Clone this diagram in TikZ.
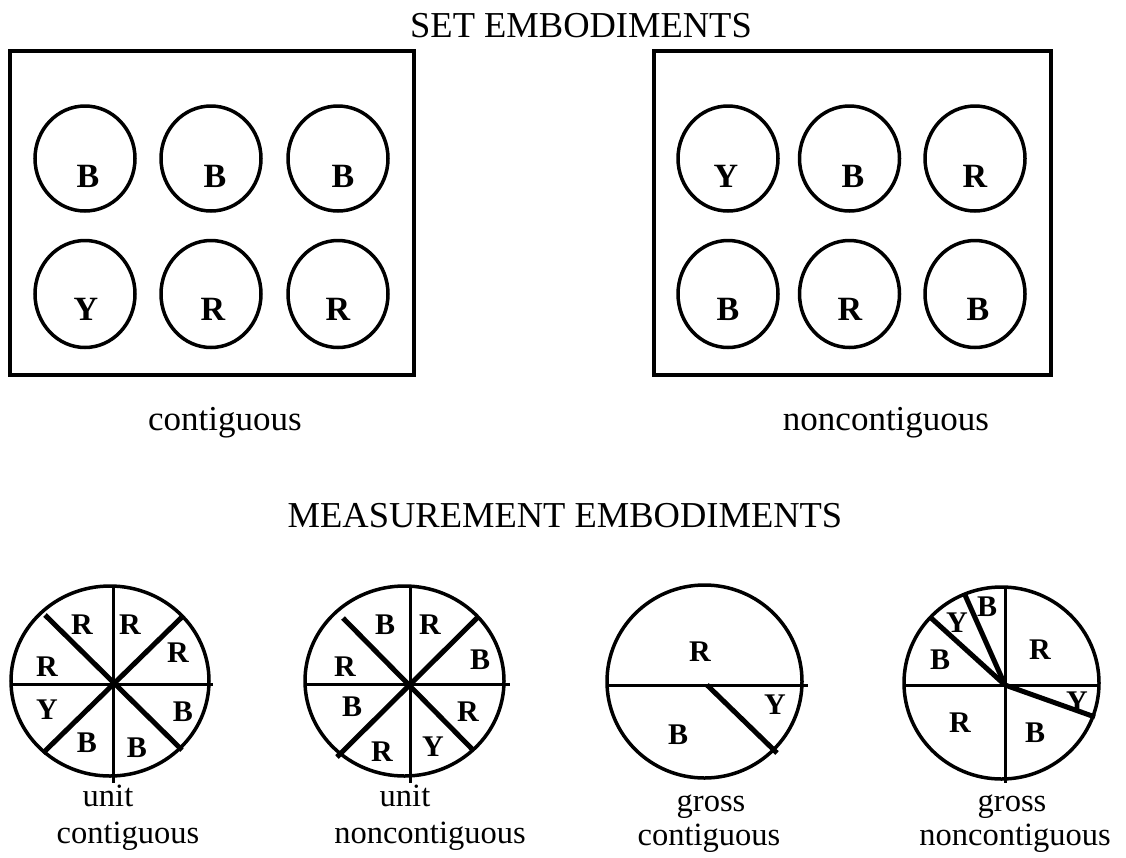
\documentclass[tikz,border=0pt]{standalone}
\usepackage{fontspec}
\setmainfont{Liberation Serif}
\begin{document}
\begin{tikzpicture}[x=1pt,y=-1pt,
  frame/.style={draw=black,line width=4pt},
  ball/.style={draw=black,line width=3.5pt},
  thinln/.style={draw=black,line width=3pt},
  thickln/.style={draw=black,line width=5pt},
  toplet/.style={inner sep=0pt,font=\fontsize{34}{36}\selectfont\bfseries},
  botlet/.style={inner sep=0pt,font=\fontsize{30}{32}\selectfont\bfseries},
  title/.style={inner sep=0pt,anchor=base,font=\fontsize{36.5}{40}\selectfont},
  toplbl/.style={inner sep=0pt,anchor=base,font=\fontsize{35}{38}\selectfont},
  botlbl/.style={inner sep=0pt,anchor=base,font=\fontsize{32.5}{35}\selectfont}]
\useasboundingbox (0,0) rectangle (1126,857);

% titles
\node[title] (t1) at (581,37) {SET EMBODIMENTS};
\node[title] (t2) at (565,527) {MEASUREMENT EMBODIMENTS};

% set embodiments: boxes
\draw[frame] (9.5,51) rectangle (414,375);
\draw[frame] (654,51) rectangle (1050.5,375);

% circles
\foreach \cx in {85,211,338,728,849.5,975}{
  \draw[ball] (\cx,158.5) ellipse (50 and 52.5);
  \draw[ball] (\cx,294) ellipse (50 and 53.5);
}
\node[toplet] (l11) at (88,176) {B};
\node[toplet] (l12) at (215,176) {B};
\node[toplet] (l13) at (343,176) {B};
\node[toplet] (l21) at (86,309) {Y};
\node[toplet] (l22) at (213,309) {R};
\node[toplet] (l23) at (338,309) {R};
\node[toplet] (r11) at (726,176) {Y};
\node[toplet] (r12) at (853,176) {B};
\node[toplet] (r13) at (975,176) {R};
\node[toplet] (r21) at (728,309) {B};
\node[toplet] (r22) at (850,309) {R};
\node[toplet] (r23) at (978,309) {B};

\node[toplbl] (c1) at (225,430) {contiguous};
\node[toplbl] (c2) at (886,430) {noncontiguous};

% ---------- measurement 1: unit contiguous
\draw[ball] (110,681) ellipse (99 and 95);
\draw[thinln] (113,587) -- (113,783);
\draw[thinln] (10,684) -- (213,684);
\draw[thickln] (45,615) -- (182,750);
\draw[thickln] (43,753) -- (182,617);
\node[botlet] (a1) at (82,625) {R};
\node[botlet] (a2) at (130,625) {R};
\node[botlet] (a3) at (178,653) {R};
\node[botlet] (a4) at (47,667) {R};
\node[botlet] (a5) at (47,710) {Y};
\node[botlet] (a6) at (183,712) {B};
\node[botlet] (a7) at (87,743) {B};
\node[botlet] (a8) at (137,748) {B};
\node[botlbl] (au) at (108,806) {unit};
\node[botlbl] (ac) at (128,843) {contiguous};

% ---------- measurement 2: unit noncontiguous
\draw[ball] (404.5,681) ellipse (99.5 and 95);
\draw[thinln] (410,585) -- (410,783);
\draw[thinln] (305,684) -- (510,684);
\draw[thickln] (343,618) -- (473,750);
\draw[thickln] (337,757) -- (478,617);
\node[botlet] (b1) at (385,625) {B};
\node[botlet] (b2) at (430,625) {R};
\node[botlet] (b3) at (345,667) {R};
\node[botlet] (b4) at (480,660) {B};
\node[botlet] (b5) at (352,707) {B};
\node[botlet] (b6) at (468,712) {R};
\node[botlet] (b7) at (382,752) {R};
\node[botlet] (b8) at (433,747) {Y};
\node[botlbl] (bu) at (405,806) {unit};
\node[botlbl] (bc) at (430,843) {noncontiguous};

% ---------- measurement 3: gross contiguous
\draw[ball] (704.5,681.5) ellipse (97.5 and 96.5);
\draw[thinln] (607,685) -- (808,685);
\draw[thickln] (707,685) -- (777,753);
\node[botlet] (g1) at (700,652) {R};
\node[botlet] (g2) at (775,705) {Y};
\node[botlet] (g3) at (678,735) {B};
\node[botlbl] (gu) at (711,811) {gross};
\node[botlbl] (gc) at (709,845) {contiguous};

% ---------- measurement 4: gross noncontiguous
\draw[ball] (1001.5,683) ellipse (97.5 and 96);
\draw[thinln] (1005,587) -- (1005,783);
\draw[thinln] (903,685) -- (1100,685);
\draw[thickln] (1005,685) -- (930,617);
\draw[thickln] (1005,685) -- (965,595);
\draw[thickln] (1005,685) -- (1095,717);
\node[botlet] (h1) at (987,607) {B};
\node[botlet] (h2) at (957,623) {Y};
\node[botlet] (h3) at (940,660) {B};
\node[botlet] (h4) at (1040,650) {R};
\node[botlet] (h5) at (1077,702) {Y};
\node[botlet] (h6) at (960,723) {R};
\node[botlet] (h7) at (1035,733) {B};
\node[botlbl] (hu) at (1012,811) {gross};
\node[botlbl] (hc) at (1015,845) {noncontiguous};
\end{tikzpicture}
\end{document}
